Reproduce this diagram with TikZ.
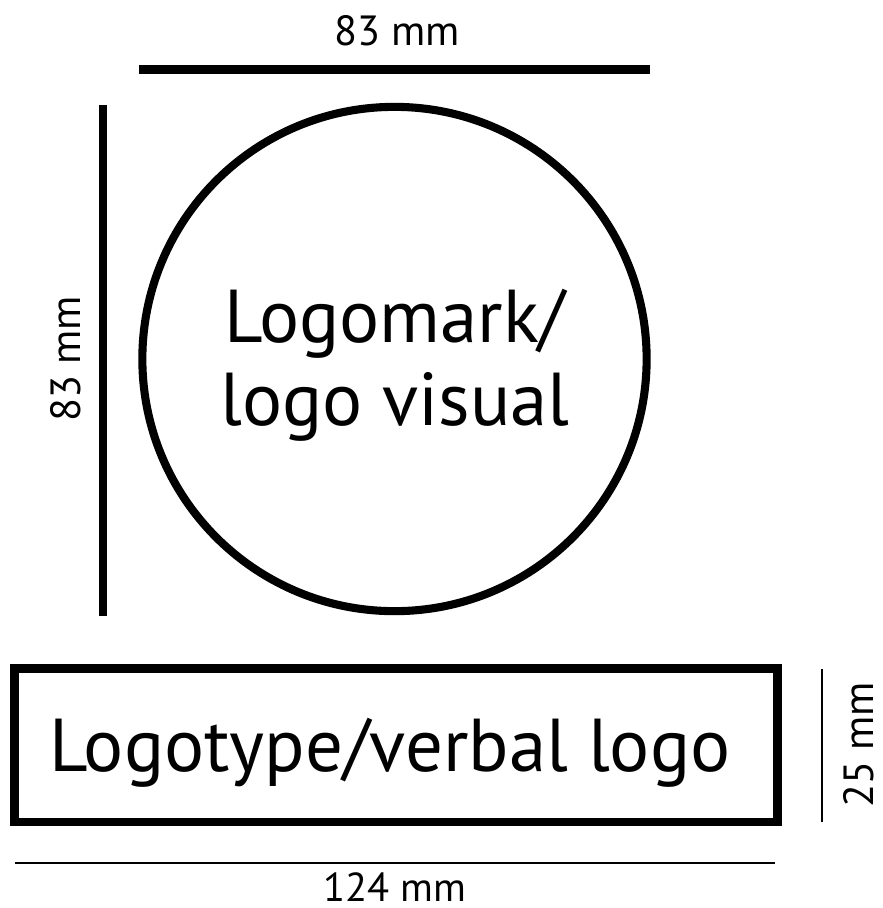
\documentclass[tikz,border=0pt]{standalone}
\usepackage{fontspec}
\setmainfont{PT Sans}
\tikzset{
  dimbar/.style={black,line width=2.5pt},
  dimthin/.style={black,line width=0.7pt},
  dimtext/.style={font=\fontsize{12}{14}\selectfont,inner sep=0pt},
  logotext/.style={font=\fontsize{21.3}{23.4}\selectfont,align=center,inner sep=0pt}
}
\begin{document}
\begin{tikzpicture}[x=0.01cm,y=-0.01cm]
\useasboundingbox (0,0) rectangle (883,908);
\draw [dimbar] (139,69.5) -- (650,69.5);
\node [dimtext,anchor=base] (markwidth) at (397,45) {83 mm};
\draw [dimbar] (103,105) -- (103,616);
\node [dimtext,rotate=90] (markheight) at (66,359) {83 mm};
\draw [black,line width=2.3pt] (394.5,359) circle (2.52cm);
\node [logotext,anchor=base] (markname) at (395,425) {Logomark/\\logo visual};
\draw [black,line width=2.4pt] (14.5,668.5) rectangle (777.5,822);
\node [logotext,anchor=base] (typename) at (390,771) {Logotype/verbal logo};
\draw [dimthin] (822,669) -- (822,822);
\node [dimtext,rotate=90] (typeheight) at (859,745) {25 mm};
\draw [dimthin] (15,863) -- (775,863);
\node [dimtext,anchor=base,font=\fontsize{11.5}{14}\selectfont] (typewidth) at (395,901) {124 mm};
\end{tikzpicture}
\end{document}
